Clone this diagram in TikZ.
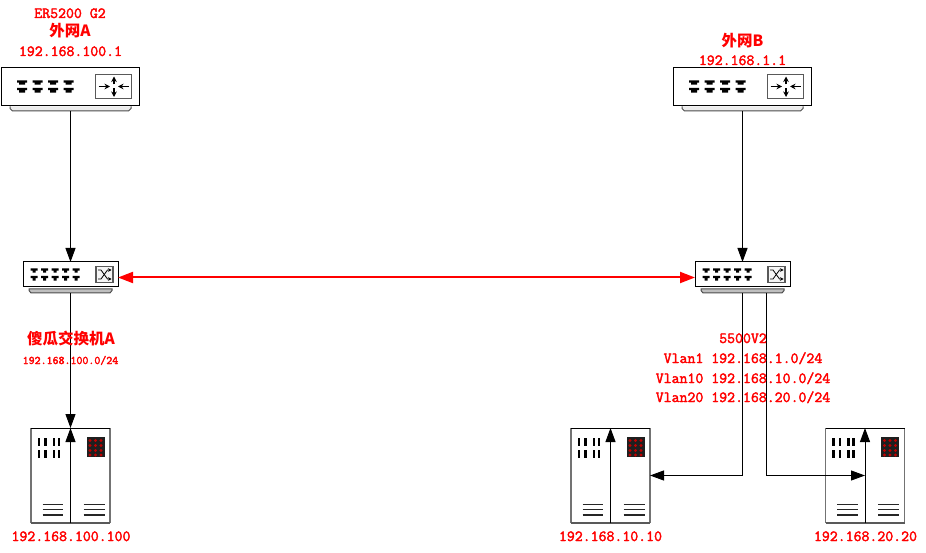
\documentclass[tikz,border=0pt]{standalone}
\usepackage{fontspec}
\usetikzlibrary{arrows.meta}
\newfontfamily\netfont[FakeBold=2.4]{Latin Modern Mono}
\newfontfamily\cjkfont{Noto Sans CJK SC}
\tikzset{
    boxline/.style={draw=black,fill=white,line width=1pt,inner sep=0pt,outer sep=0pt},
    netlabel/.style={text=red,anchor=base,inner sep=0pt,font=\netfont\fontsize{15.4}{16}\selectfont},
    smalllabel/.style={netlabel,font=\netfont\fontsize{11.6}{12}\selectfont},
    cjklabel/.style={netlabel,font=\cjkfont\bfseries\fontsize{15.5}{16}\selectfont},
    link/.style={line width=1pt,-{Triangle[length=14pt,width=10pt]}},
    redlink/.style={line width=2pt,red,{Triangle[length=15pt,width=11pt]}-{Triangle[length=15pt,width=11pt]}},
    port/.pic={
        \fill[black] (-#1,-6)--(#1,-6)--(#1,-3.8)--(#1-2,-3.8)--(#1-2,-1.8)--(2-#1,-1.8)--(2-#1,-3.8)--(-#1,-3.8)--cycle;
        \fill[black] (-#1,1.5)--(#1,1.5)--(#1,3.7)--(#1-2,3.7)--(#1-2,6.2)--(2-#1,6.2)--(2-#1,3.7)--(-#1,3.7)--cycle;
    },
    router/.pic={
        \node[boxline,minimum width=138pt,minimum height=38pt] (-body) at (0,0) {};
        \draw[draw=black!70,line width=1pt,fill=black!8] (-60.5,20)--(-60.5,22)--(-58,24.5)--(58,24.5)--(60.5,22)--(60.5,20);
        \coordinate (-out) at (0,24.5);
        % ports
        \foreach \x in {-48.5,-33,-17.5,-2} \pic at (\x,0) {port=5};
        % routing icon
        \draw[draw=black!65,fill=white,line width=1.3pt] (25,-12) rectangle (61,12);
        \draw[line width=1.1pt,-{Stealth[length=5.5pt,width=5.5pt]}] (28,0)--(39.5,0);
        \draw[line width=1.1pt,-{Stealth[length=5.5pt,width=5.5pt]}] (58,0)--(47.5,0);
        \draw[line width=1.1pt,-{Stealth[length=5.5pt,width=5.5pt]}] (43.5,-2)--(43.5,-10);
        \draw[line width=1.1pt,-{Stealth[length=5.5pt,width=5.5pt]}] (43.5,2)--(43.5,10.5);
    },
    switch/.pic={
        \node[boxline,minimum width=95pt,minimum height=25pt] (-body) at (0,0) {};
        \draw[draw=black!70,line width=1pt,fill=black!25] (-41.5,14.5)--(-41.5,16)--(-39.5,18.5)--(39.5,18.5)--(41.5,16)--(41.5,14.5)--cycle;
        \coordinate (-out) at (0,18.5);
        % ports
        \foreach \x in {-36.5,-26,-15.5,-5,5.5} \pic at (\x,0) {port=3.5};
        % switching icon
        \draw[draw=black!65,fill=black!4,line width=1.2pt] (25.5,-8) rectangle (42.5,8);
        \draw[line width=0.8pt,-{Stealth[length=3.5pt,width=3.5pt]}] (27.5,-4.5)--(30.5,-4.5)--(37,4.5)--(41,4.5);
        \draw[line width=0.8pt,-{Stealth[length=3.5pt,width=3.5pt]}] (27.5,4.5)--(30.5,4.5)--(37,-4.5)--(41,-4.5);
    },
    server/.pic={
        \node[draw=none,fill=white,inner sep=0pt,outer sep=0pt,minimum width=79pt,minimum height=95pt] (-body) at (0,0) {};
        \draw[draw=black!55,line width=1.2pt] (-39.5,47.5)--(-39.5,-47.5);
        \draw[draw=black!55,line width=1.2pt] (39.5,47.5)--(39.5,-47.5);
        \draw[draw=black!65,line width=1.2pt] (-39.5,47.5)--(39.5,47.5);
        \draw[line width=1pt] (-39.5,-47.5)--(39.5,-47.5);
        % slots
        \foreach \x in {-31.5,-25,-16.5,-11.5}
            \foreach \y in {-34,-22} \fill (\x-1.2,\y-4) rectangle (\x+1.2,\y+4);
        % panel with lamps
        \fill[black!88] (16,-38.5) rectangle (34,-18.5);
        \foreach \x in {19.5,25,30.5}
            \foreach \y in {-35,-30,-25,-20.5} \fill[red!75!black] (\x,\y) circle (1.6pt);
        % vents
        \foreach \y in {29,34.2,39.5} {
            \draw[black!85,line width=1.5pt] (-28,\y)--(-7.5,\y);
            \draw[black!85,line width=1.5pt] (13,\y)--(34,\y);
        }
    }
}
\begin{document}
\begin{tikzpicture}[x=1pt,y=-1pt]
    \useasboundingbox (0,0) rectangle (926,553);

    % Routers and switches
    \pic (routerA) at (70.5,86.5) {router};
    \pic (routerB) at (742.5,86.5) {router};
    \pic (switchA) at (70.5,274.5) {switch};
    \pic (switchB) at (742.5,274.5) {switch};

    % Servers
    \pic (serverA) at (70.5,475.5) {server};
    \pic (serverB) at (610.5,475.5) {server};
    \pic (serverC) at (865,475.5) {server};

    % Drop points under the second switch
    \coordinate (vlanOne) at (742.5,475.5);
    \coordinate (vlanTwo) at (766,475.5);
    \coordinate (vlanTwoTop) at (766,293);

    % Uplinks
    \draw[link] (routerA-out)--(switchA-body.north);
    \draw[link] (routerB-out)--(switchB-body.north);

    % Link between the switches
    \draw[redlink] ([yshift=-3pt]switchA-body.east)--([yshift=-3pt]switchB-body.west);

    % Downlinks
    \draw[link] (switchA-out)--(serverA-body.north);
    \draw[link] (switchB-out)--(vlanOne)--(serverB-body.east);
    \draw[link] (vlanTwoTop)--(vlanTwo)--(serverC-body.center);

    % Vertical line through each server
    \draw[link] (serverA-body.south)--(serverA-body.north);
    \draw[link] (serverB-body.south)--(serverB-body.north);
    \draw[link] (serverC-body.south)--(serverC-body.north);

    % Labels at the top
    \node[netlabel] (titleA) at (70,18) {ER5200 G2};
    \node[cjklabel] (wanA) at (70,37) {外网A};
    \node[netlabel] (ipA) at (70.5,56) {192.168.100.1};
    \node[cjklabel] (wanB) at (742.5,47) {外网B};
    \node[netlabel] (ipB) at (742.5,65) {192.168.1.1};

    % Labels under the switches
    \node[cjklabel] (nameA) at (71,344) {傻瓜交换机A};
    \node[smalllabel] (netA) at (70.5,364) {192.168.100.0/24};
    \node[netlabel] (nameB) at (743,343) {5500V2};
    \node[netlabel] (vlanA) at (743,363) {Vlan1 192.168.1.0/24};
    \node[netlabel] (vlanB) at (743,383) {Vlan10 192.168.10.0/24};
    \node[netlabel] (vlanC) at (743,402) {Vlan20 192.168.20.0/24};

    % Labels under the servers
    \node[netlabel] (hostA) at (71,541) {192.168.100.100};
    \node[netlabel] (hostB) at (610.5,541) {192.168.10.10};
    \node[netlabel] (hostC) at (865.5,541) {192.168.20.20};

\end{tikzpicture}
\end{document}
